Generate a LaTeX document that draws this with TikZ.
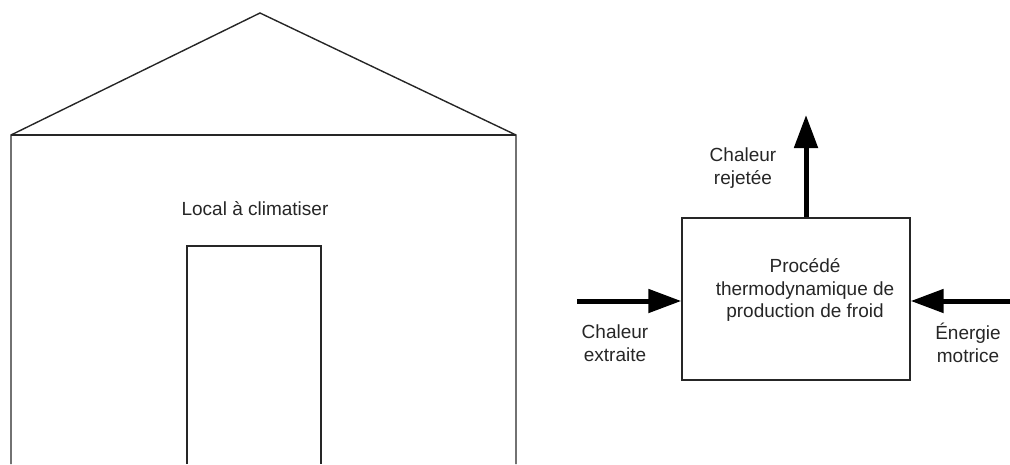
\documentclass[tikz,border=0pt]{standalone}
\usepackage{fontspec}
\setmainfont{Liberation Sans}
\usetikzlibrary{arrows.meta}
\begin{document}
\begin{tikzpicture}[x=1pt,y=-1pt,
  wall/.style={draw=black!85,line width=1.4pt},
  flow/.style={line width=5pt,-{Triangle[length=33pt,width=23pt]}},
  lbl/.style={font=\fontsize{19}{22.5}\selectfont,text=black!85,align=center,inner sep=0pt}]
\useasboundingbox (0,0) rectangle (1010,464);
% building outline
\coordinate (roofL) at (11,135);
\coordinate (roofR) at (516,135);
\coordinate (apex) at (260,13);
\draw[wall] (11,464) -- (roofL) -- (apex) -- (roofR) -- (516,464);
\draw[wall] (roofL) -- (roofR);
% door
\draw[wall] (187,464) -- (187,246) -- (321,246) -- (321,464);
\node[lbl] (local) at (255,209) {Local à climatiser};
% refrigeration process
\node[draw=black!85,line width=1.4pt,minimum width=228pt,minimum height=162pt,
  inner sep=0pt] (proc) at (796,299) {};
\node[lbl] (proctxt) at (805,290) {Procédé\\thermodynamique de\\production de froid};
\coordinate (outTip) at (806,115);
\coordinate (inStart) at (577,301);
\coordinate (enStart) at (1012,301);
\draw[flow] (proc.north -| outTip) -- (outTip);
\draw[flow] (inStart) -- (proc.west |- inStart);
\draw[flow] (enStart) -- (proc.east |- enStart);
\node[lbl] (rej) at (743,168) {Chaleur\\rejetée};
\node[lbl] (ext) at (615,343) {Chaleur\\extraite};
\node[lbl] (ene) at (968,343) {Énergie\\motrice};
\end{tikzpicture}
\end{document}
